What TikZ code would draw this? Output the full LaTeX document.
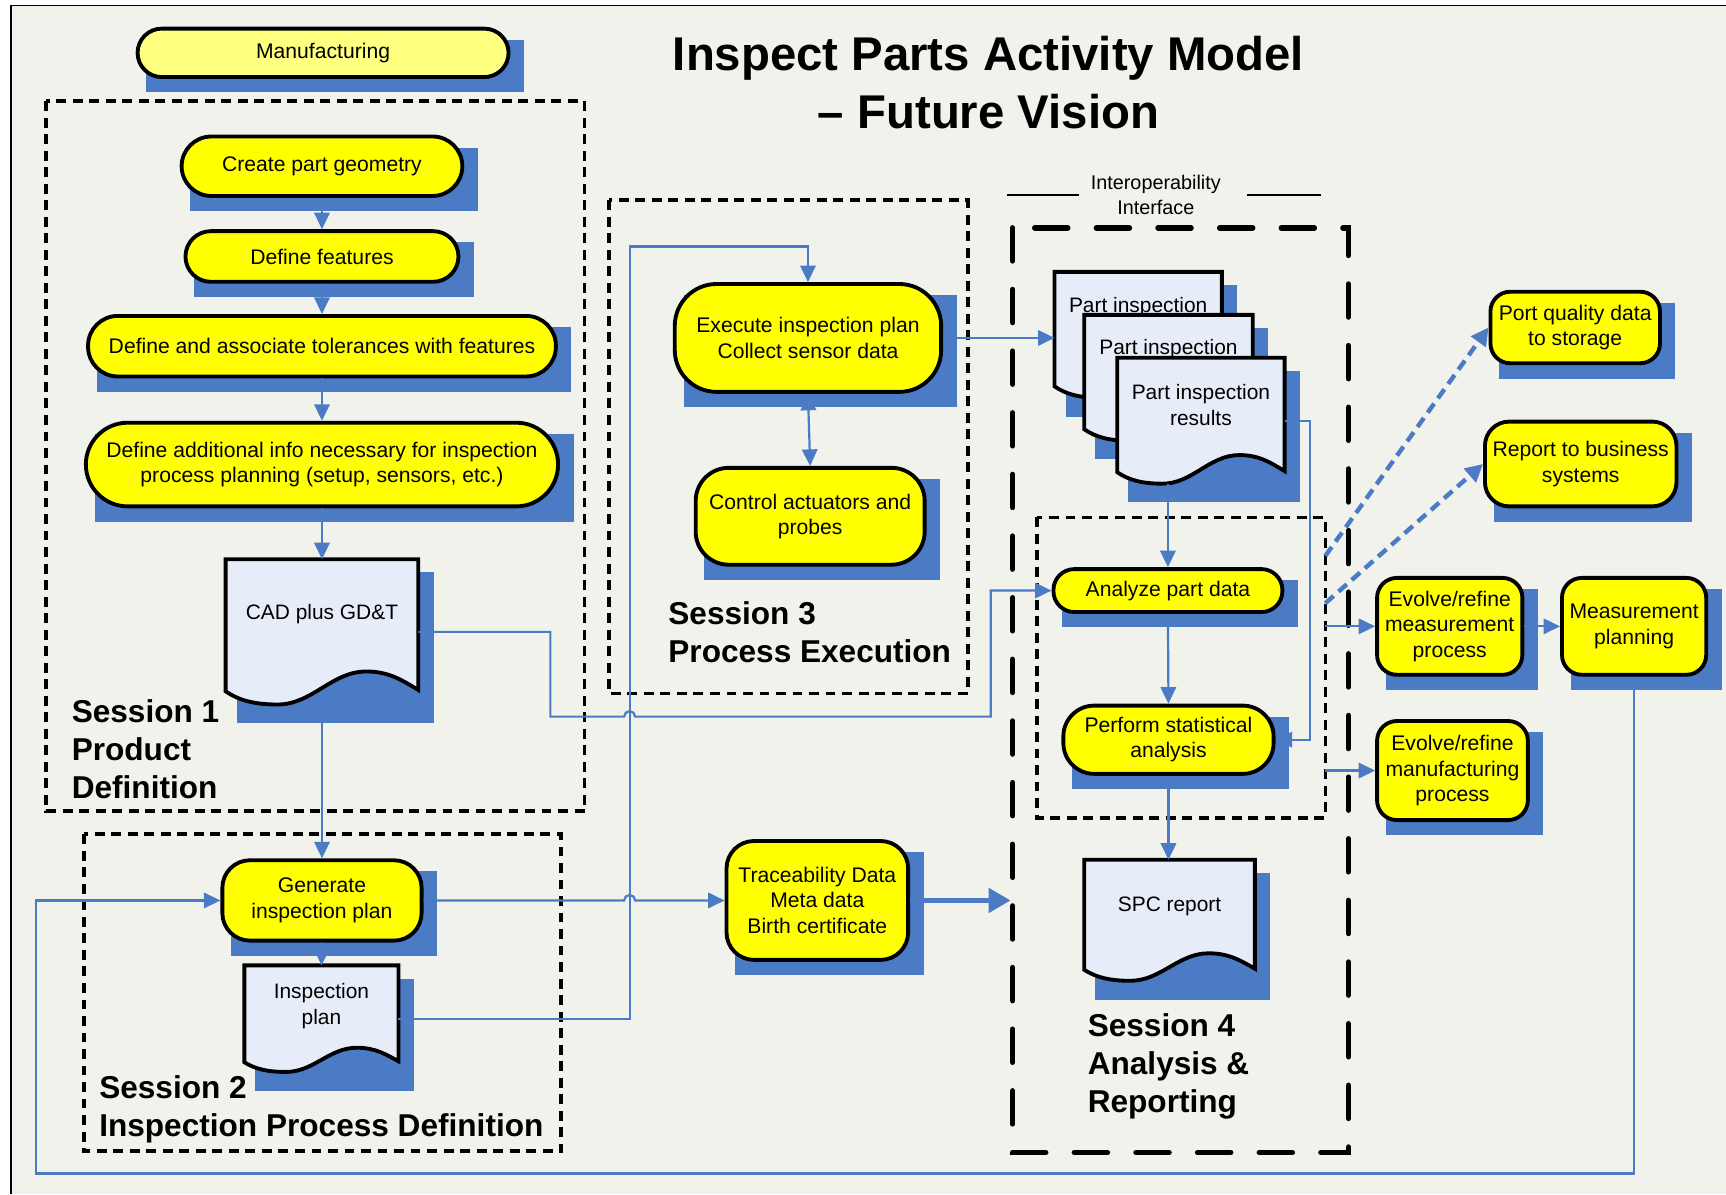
\documentclass[tikz,border=0pt]{standalone}
\usepackage{fontspec}
\setmainfont{Liberation Sans}
\usetikzlibrary{arrows.meta,calc}
\definecolor{bgc}{HTML}{F2F2EC}
\definecolor{ylw}{HTML}{FFFF00}
\definecolor{lylw}{HTML}{FFFF80}
\definecolor{shb}{HTML}{4A7BC4}
\definecolor{docf}{HTML}{E7EDF8}
\definecolor{cnb}{HTML}{4A7BC4}
\tikzset{
  proc/.style={draw=black, line width=3.5pt, fill=ylw, align=center, inner sep=0pt,
    font=\fontsize{19.2}{23}\selectfont},
  tip/.tip={Triangle[length=15pt,width=14pt]},
  conn/.style={draw=cnb, line width=2pt, -tip},
  dconn/.style={draw=cnb, line width=4pt, dash pattern=on 10pt off 6pt, -{Triangle[length=16pt,width=16pt]}},
  sessbox/.style={draw=black, line width=3.5pt, dash pattern=on 9pt off 6pt},
  bigbox/.style={draw=black, line width=5pt, dash pattern=on 30pt off 26pt, line cap=round},
  sesslabel/.style={anchor=west, align=left, inner sep=0pt,
    font=\bfseries\fontsize{28.7}{34.5}\selectfont},
  doctext/.style={align=center, inner sep=0pt, font=\fontsize{19}{23}\selectfont},
}
% #1 extra style, #2 name, #3 cx, #4 cy, #5 w, #6 h, #7 text
\newcommand\procnode[7][]{%
  \fill[shb] ({#3-#5/2+8},{#4-#6/2+10}) rectangle ({#3+#5/2+14},{#4+#6/2+14});
  \node[proc, minimum width=#5pt, minimum height=#6pt, #1] (#2) at (#3,#4) {#7};
}
% #1 name, #2 left x, #3 top y, #4 w, #5 H, #6 text y, #7 text
\newcommand\docnode[7]{%
  \fill[shb] ({#2+10},{#3+12}) rectangle ({#2+#4+14},{#3+1.1*#5+17});
  \path[draw=black, line width=3.5pt, fill=docf, line join=miter]
    (#2,#3) -- ({#2+#4},#3) -- ({#2+#4},{#3+0.99*#5})
    .. controls ({#2+0.92*#4},{#3+0.92*#5}) and ({#2+0.85*#4},{#3+0.85*#5}) .. ({#2+0.73*#4},{#3+0.85*#5})
    .. controls ({#2+0.55*#4},{#3+0.85*#5}) and ({#2+0.45*#4},{#3+1.1*#5}) .. ({#2+0.27*#4},{#3+1.1*#5})
    .. controls ({#2+0.15*#4},{#3+1.1*#5}) and ({#2+0.07*#4},{#3+1.07*#5}) .. (#2,{#3+#5}) -- cycle;
  \node[inner sep=0pt, outer sep=0pt, minimum width=#4pt, minimum height={#5*1.1pt}] (#1) at ({#2+#4/2},{#3+0.55*#5}) {};
  \node[doctext] at ({#2+#4/2},#6) {#7};
}
\begin{document}
\begin{tikzpicture}[x=1pt,y=-1pt]
\useasboundingbox (0,0) rectangle (1568,1085);
\fill[white] (0,0) rectangle (1568,1085);
\fill[bgc] (10,5) rectangle (1568,1085);
\draw[black, line width=1.5pt] (10,1085) -- (10,5) -- (1568,5);

% title
\node[align=center, inner sep=0pt, font=\bfseries\fontsize{43}{53}\selectfont] (title) at (898,75)
  {Inspect Parts Activity Model\\– Future Vision};
\node[align=center, inner sep=0pt, font=\fontsize{18}{22}\selectfont] (interop) at (1050,177)
  {Interoperability\\Interface};
\draw[black, line width=2pt] (915,177) -- (980,177) (1133,177) -- (1200,177);

% session boxes
\draw[sessbox] (42,92) rectangle (531,737);
\draw[sessbox] (76,758) rectangle (510,1046);
\draw[sessbox] (553,182) rectangle (879,630);
\draw[bigbox] (920,207) rectangle (1225,1047);
\draw[sessbox, line width=3pt] (942,470) rectangle (1204,743);

\node[sesslabel] (s1) at (65,681) {Session 1\\Product\\Definition};
\node[sesslabel] (s2) at (90,1007.5) {Session 2\\Inspection Process Definition};
\node[sesslabel] (s3) at (607,574.5) {Session 3\\Process Execution};
\node[sesslabel] (s4) at (988,969) {Session 4\\Analysis \&\\Reporting};

% process nodes
\procnode[fill=lylw, rounded corners=22pt]{manu}{293.5}{48}{337}{44}{Manufacturing}
\procnode[rounded corners=27pt]{create}{292.5}{151}{255}{54}{Create part geometry}
\procnode[rounded corners=23pt]{feat}{292.5}{233}{248}{46}{Define features}
\procnode[rounded corners=27pt]{tol}{292.5}{314.5}{425}{55}{Define and associate tolerances with features}
\procnode[rounded corners=38pt]{addl}{292.5}{422}{429}{76}{Define additional info necessary for inspection\\process planning (setup, sensors, etc.)}
\procnode[rounded corners=25pt]{gen}{292.5}{818}{181}{73}{Generate\\inspection plan}
\procnode[rounded corners=25pt]{trace}{742.5}{818}{165}{108}{Traceability Data\\Meta data\\Birth certificate}
\procnode[rounded corners=38pt]{exec}{734}{307}{242}{98}{Execute inspection plan\\Collect sensor data}
\procnode[rounded corners=30pt]{ctrl}{736}{469}{208}{88}{Control actuators and\\probes}
\procnode[rounded corners=19pt]{anal}{1061}{536.5}{208}{39}{Analyze part data}
\procnode[rounded corners=28pt]{perf}{1061.5}{672}{191}{62}{Perform statistical\\analysis}
\procnode[rounded corners=18pt]{port}{1431}{297.5}{154}{65}{Port quality data\\to storage}
\procnode[rounded corners=22pt]{report}{1436}{421.5}{174}{77}{Report to business\\systems}
\procnode[rounded corners=18pt]{evm}{1317}{569}{132}{88}{Evolve/refine\\measurement\\process}
\procnode[rounded corners=18pt]{mplan}{1484.5}{569}{131}{88}{Measurement\\planning}
\procnode[rounded corners=18pt]{evf}{1319.5}{700}{137}{90}{Evolve/refine\\manufacturing\\process}

% documents
\docnode{cad}{205}{508}{175}{120}{558}{CAD plus GD\&T}
\docnode{insp}{222}{877}{140}{88}{914}{Inspection\\plan}
\docnode{pir1}{958}{247}{152}{104}{279}{Part inspection}
\docnode{pir2}{985}{286}{153}{104}{317}{Part inspection}
\docnode{pir3}{1015}{325}{152}{104}{368}{Part inspection\\results}
\docnode{spc}{985}{781}{155}{100}{823}{SPC report}

% connectors
\draw[conn] (create.south) -- (feat.north);
\draw[conn] (feat.south) -- (tol.north);
\draw[conn] (tol.south) -- (addl.north);
\draw[conn] (addl.south) -- (cad.north);
\draw[conn] (cad.south) -- (gen.north);
\draw[conn] (cad.east) -| (500,651) -- (567,651) arc[start angle=180, end angle=0, radius=5pt] -- (900,651) |- (anal.west);
\draw[conn] (gen.south) -- (insp.north);
\draw[conn] (gen.east) -- (567,818) arc[start angle=180, end angle=0, radius=5pt] -- (trace.west);
\draw[conn] (insp.east) -| (572,224) -| (exec.north);
\draw[draw=cnb, line width=2pt, tip-tip] (exec.south) -- (ctrl.north);
\draw[conn] (exec.east) -- (exec.east -| pir1.west);
\coordinate (tr-end) at (918,818);
\draw[draw=cnb, line width=4.5pt, -{Triangle[length=20pt,width=22pt]}] (trace.east) -- (tr-end);
\draw[conn] (pir3.south -| anal.north) -- (anal.north);
\draw[conn] (pir3.east) -| (1190,672) -- (perf.east);
\draw[conn] (anal.south) -- (perf.north);
\draw[conn] (perf.south) -- (perf.south |- spc.north);
\coordinate (dq1) at (1204,505);
\coordinate (dq2) at (1204,548);
\coordinate (dq3) at (1204,569);
\coordinate (dq4) at (1204,700);
\draw[dconn] (dq1) -- (port.west);
\draw[dconn] (dq2) -- (report.west);
\draw[conn] (dq3) -- (evm.west);
\draw[conn] (dq4) -- (evf.west);
\draw[conn] (evm.east) -- (mplan.west);
\draw[conn] (mplan.south) -- (1484.5,1066) -| (33,818) -- (gen.west);
\end{tikzpicture}
\end{document}
